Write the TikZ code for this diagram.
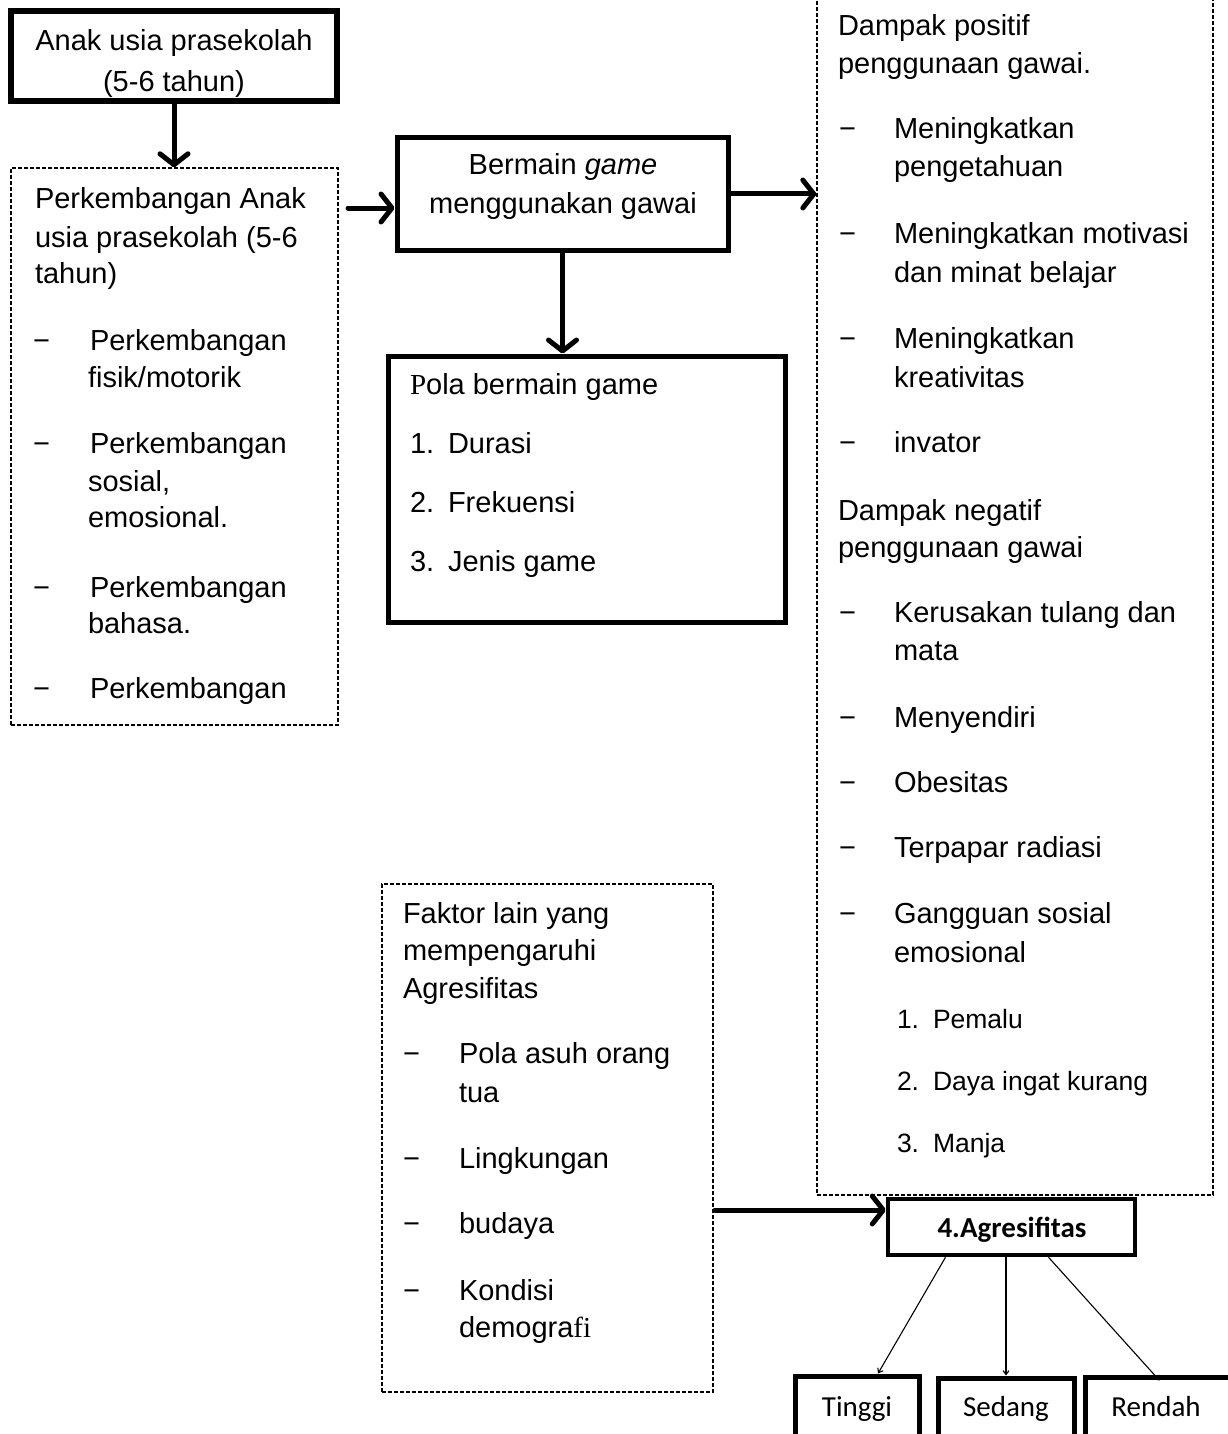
\documentclass[tikz,border=0pt]{standalone}
\usepackage{fontspec}
\setmainfont{Liberation Sans}
\newfontfamily\calfont{Carlito}
\newfontfamily\seriffont{Liberation Serif}
\usetikzlibrary{arrows.meta,calc}
\tikzset{
  thickbox/.style={draw, rectangle, line width=5pt, inner sep=0pt},
  dashbox/.style={draw, rectangle, line width=1.4pt, dash pattern=on 4pt off 2pt, inner sep=0pt},
  ln/.style={anchor=base west, inner sep=0pt, outer sep=0pt, font=\fontsize{29}{38}\selectfont},
  lnc/.style={ln, anchor=base},
  sm/.style={ln, font=\fontsize{26.5}{34}\selectfont},
  cal/.style={lnc, font=\calfont\fontsize{29}{36}\selectfont},
  bigarrow/.style={line width=5pt, line cap=round, -{Straight Barb[length=11pt,width=28pt,line cap=round,line join=round]}},
  thinarrow/.style={line width=1.1pt, -{Straight Barb[length=4pt,width=6pt]}},
}
\begin{document}
\begin{tikzpicture}[x=1pt,y=-1pt]
\useasboundingbox (0,0) rectangle (1227,1434);

% ---------- box 1
\node[lnc] (b1a) at (174,51) {Anak usia prasekolah};
\node[lnc] (b1b) at (174,92) {(5-6 tahun)};
\node[thickbox, line width=5.5pt, minimum width=326pt, minimum height=90pt] (b1) at (174,56) {};

% ---------- left dashed box
\node[dashbox, minimum width=327pt, minimum height=557pt] (d1) at (174.5,446.5) {};
\node[ln] (d1a) at (35,208) {Perkembangan Anak};
\node[ln] (d1b) at (35,247) {usia prasekolah (5-6};
\node[ln] (d1c) at (35,283) {tahun)};
\node[ln] (d1m1) at (33,350) {−};
\node[ln] (d1i1a) at (90,350) {Perkembangan};
\node[ln] (d1i1b) at (88,387) {fisik/motorik};
\node[ln] (d1m2) at (33,453) {−};
\node[ln] (d1i2a) at (90,453) {Perkembangan};
\node[ln] (d1i2b) at (88,491) {sosial,};
\node[ln] (d1i2c) at (88,527) {emosional.};
\node[ln] (d1m3) at (33,597) {−};
\node[ln] (d1i3a) at (90,597) {Perkembangan};
\node[ln] (d1i3b) at (88,633) {bahasa.};
\node[ln] (d1m4) at (33,698) {−};
\node[ln] (d1i4a) at (90,698) {Perkembangan};

% ---------- Bermain game box
\node[thickbox, minimum width=331pt, minimum height=112pt] (bm) at (562.5,194) {};
\node[lnc] (bma) at (563,175) {Bermain \textit{game}};
\node[lnc] (bmb) at (563,214) {menggunakan gawai};

% ---------- Pola box
\node[thickbox, minimum width=397pt, minimum height=266pt] (pola) at (586.5,489) {};
\node[ln] (po0) at (410,394) {{\seriffont P}ola bermain game};
\node[ln] (po1n) at (410,453) {1.};
\node[ln] (po1) at (448,453) {Durasi};
\node[ln] (po2n) at (410,512) {2.};
\node[ln] (po2) at (448,512) {Frekuensi};
\node[ln] (po3n) at (410,571) {3.};
\node[ln] (po3) at (448,571) {Jenis game};

% ---------- right dashed box
\node[dashbox, minimum width=396pt, minimum height=1215pt] (rb) at (1015,587.5) {};
\node[ln] (rb1) at (838,36) {Dampak positif};
\node[ln] (rb2) at (838,74) {penggunaan gawai.};
\node[ln] (rbm1) at (839,139) {−};
\node[ln] (rbi1a) at (894,139) {Meningkatkan};
\node[ln] (rbi1b) at (894,177) {pengetahuan};
\node[ln] (rbm2) at (839,243) {−};
\node[ln] (rbi2a) at (894,243) {Meningkatkan motivasi};
\node[ln] (rbi2b) at (894,282) {dan minat belajar};
\node[ln] (rbm3) at (839,348) {−};
\node[ln] (rbi3a) at (894,348) {Meningkatkan};
\node[ln] (rbi3b) at (894,387) {kreativitas};
\node[ln] (rbm4) at (839,452) {−};
\node[ln] (rbi4) at (894,452) {invator};
\node[ln] (rb3) at (838,520) {Dampak negatif};
\node[ln] (rb4) at (838,557) {penggunaan gawai};
\node[ln] (rbm5) at (839,622) {−};
\node[ln] (rbi5a) at (894,622) {Kerusakan tulang dan};
\node[ln] (rbi5b) at (894,660) {mata};
\node[ln] (rbm6) at (839,727) {−};
\node[ln] (rbi6) at (894,727) {Menyendiri};
\node[ln] (rbm7) at (839,792) {−};
\node[ln] (rbi7) at (894,792) {Obesitas};
\node[ln] (rbm8) at (839,857) {−};
\node[ln] (rbi8) at (894,857) {Terpapar radiasi};
\node[ln] (rbm9) at (839,923) {−};
\node[ln] (rbi9a) at (894,923) {Gangguan sosial};
\node[ln] (rbi9b) at (894,962) {emosional};
\node[sm] (rbs1n) at (897,1028) {1.};
\node[sm] (rbs1) at (933,1028) {Pemalu};
\node[sm] (rbs2n) at (897,1090) {2.};
\node[sm] (rbs2) at (933,1090) {Daya ingat kurang};
\node[sm] (rbs3n) at (897,1152) {3.};
\node[sm] (rbs3) at (933,1152) {Manja};

% ---------- Faktor box
\node[dashbox, minimum width=331pt, minimum height=508pt] (fk) at (547.5,1138) {};
\node[ln] (fk1) at (403,923) {Faktor lain yang};
\node[ln] (fk2) at (403,960) {mempengaruhi};
\node[ln] (fk3) at (403,998) {Agresifitas};
\node[ln] (fkm1) at (403,1063) {−};
\node[ln] (fki1a) at (459,1063) {Pola asuh orang};
\node[ln] (fki1b) at (459,1102) {tua};
\node[ln] (fkm2) at (403,1168) {−};
\node[ln] (fki2) at (459,1168) {Lingkungan};
\node[ln] (fkm3) at (403,1233) {−};
\node[ln] (fki3) at (459,1233) {budaya};
\node[ln] (fkm4) at (403,1300) {−};
\node[ln] (fki4a) at (459,1300) {Kondisi};
\node[ln] (fki4b) at (459,1337) {demogra{\seriffont fi}};

% ---------- Agresifitas and levels
\node[thickbox, line width=4.5pt, fill=white, minimum width=247pt, minimum height=56pt] (ag) at (1011.5,1227) {};
\node[cal, font=\calfont\bfseries\fontsize{29}{36}\selectfont] (agt) at (1012,1237) {4.Agresifitas};
\node[thickbox, minimum width=124pt, minimum height=84pt] (ti) at (857,1418) {};
\node[thickbox, minimum width=136pt, minimum height=82pt] (se) at (1006,1419) {};
\node[thickbox, minimum width=165pt, minimum height=83pt] (re) at (1167.5,1418.5) {};
\node[cal] (tit) at (857,1416) {Tinggi};
\node[cal] (set) at (1006,1416) {Sedang};
\node[cal] (ret) at (1156,1416) {Rendah};

% ---------- connectors
\draw[bigarrow] (b1.south) -- (b1.south |- d1.north);
\coordinate (a2s) at (348,208);
\draw[bigarrow] (a2s) -- (a2s -| bm.west);
\draw[bigarrow] (bm.east) -- (bm.east -| rb.west);
\draw[bigarrow] (bm.south) -- (bm.south |- pola.north);
\coordinate (a5s) at (715,1210);
\draw[bigarrow] (a5s) -- (a5s -| ag.west);

\draw[thinarrow] ($(ag.south)+(-66,0)$) -- ($(ti.north)+(21,0)$);
\draw[thinarrow] (ag.south -| se.north) -- (se.north);
\draw[thinarrow] ($(ag.south)+(37,0)$) -- ($(re.north)+(-8,6)$);
\end{tikzpicture}
\end{document}
